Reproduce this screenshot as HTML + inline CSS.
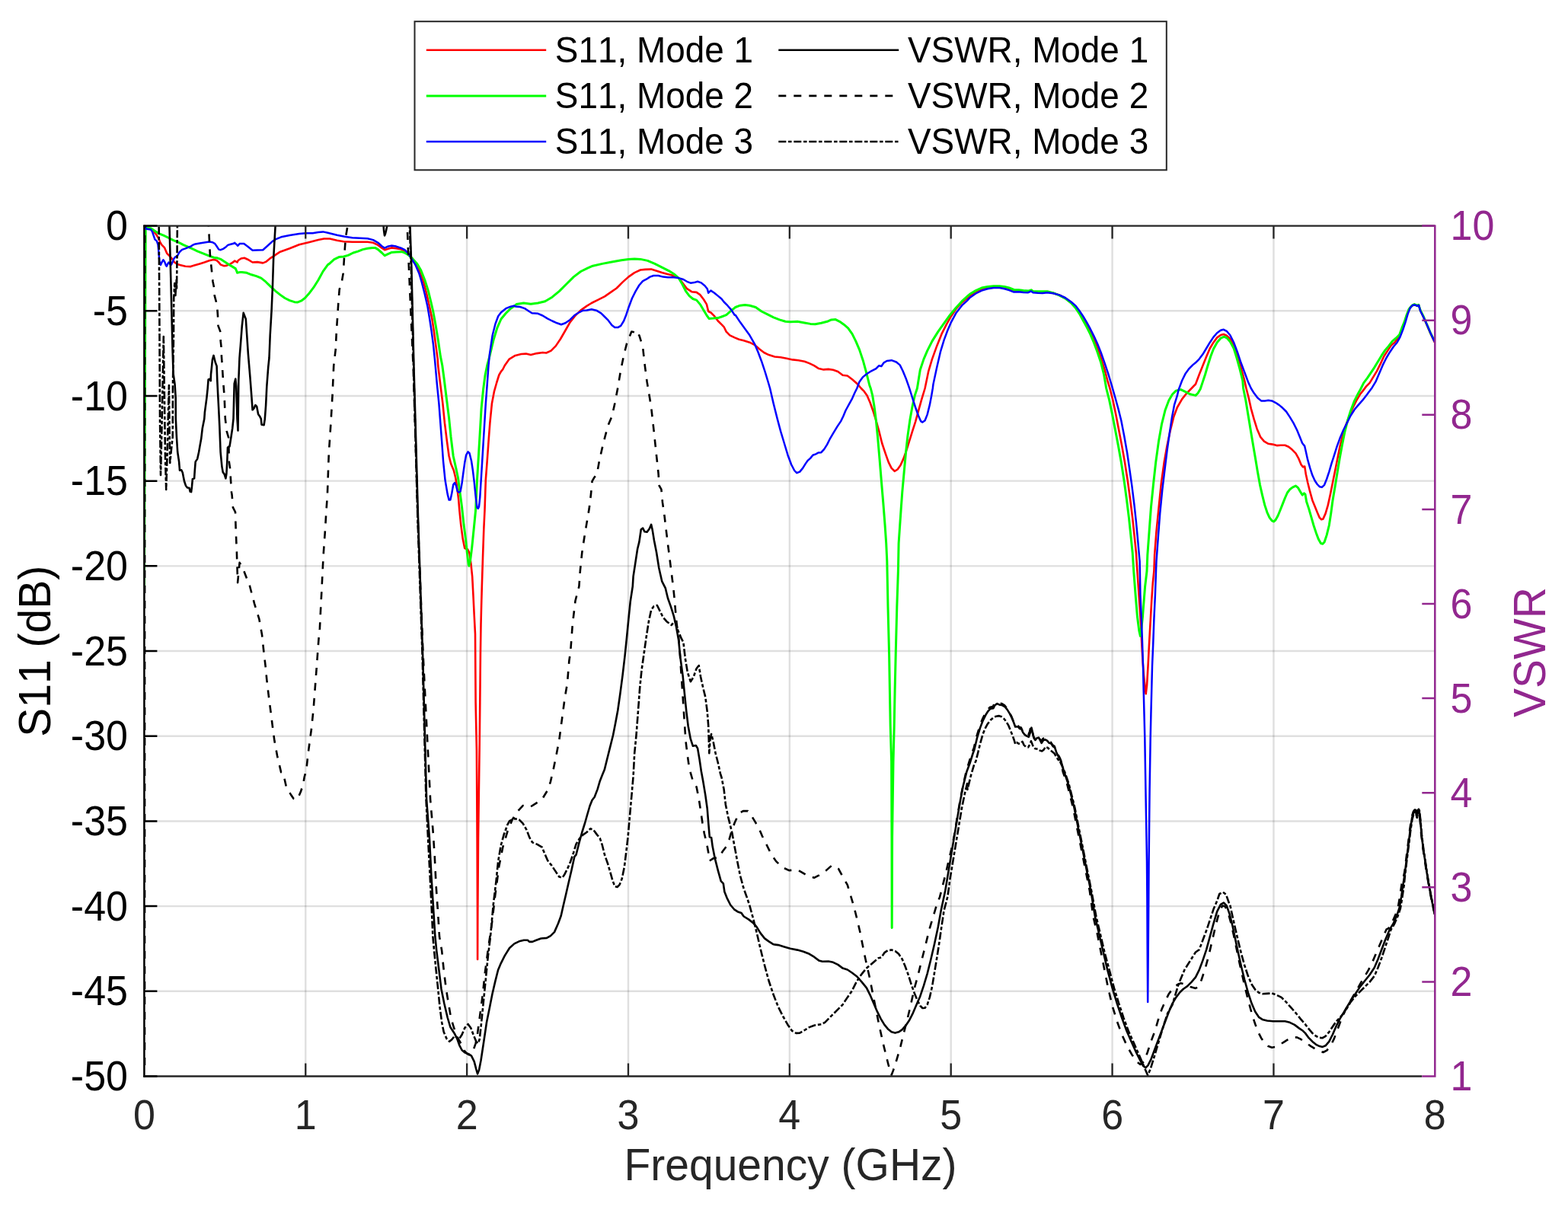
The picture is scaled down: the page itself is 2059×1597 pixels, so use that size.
<!DOCTYPE html>
<html lang="en"><head><meta charset="utf-8"><title>S11 and VSWR vs Frequency</title>
<style>html,body{margin:0;padding:0;background:#fff}body{width:2059px;height:1597px;overflow:hidden}svg{display:block}text{font-family:"Liberation Sans", Arial, Helvetica, sans-serif;font-kerning:none;font-variant-ligatures:none}</style>
</head><body>
<svg xmlns="http://www.w3.org/2000/svg" width="2059" height="1597" viewBox="0 0 2059 1597">
<rect x="0" y="0" width="2059" height="1597" fill="#ffffff"/>
<path d="M401.26 296.60V1413.50M613.12 296.60V1413.50M824.99 296.60V1413.50M1036.85 296.60V1413.50M1248.71 296.60V1413.50M1460.58 296.60V1413.50M1672.44 296.60V1413.50" fill="none" stroke="#262626" stroke-opacity="0.15" stroke-width="2.4"/>
<path d="M189.40 408.29H1884.30M189.40 519.98H1884.30M189.40 631.67H1884.30M189.40 743.36H1884.30M189.40 855.05H1884.30M189.40 966.74H1884.30M189.40 1078.43H1884.30M189.40 1190.12H1884.30M189.40 1301.81H1884.30" fill="none" stroke="#262626" stroke-opacity="0.15" stroke-width="2.4"/>
<defs><clipPath id="ax"><rect x="188.80" y="296.00" width="1696.10" height="1118.10"/></clipPath></defs>
<g clip-path="url(#ax)" fill="none" stroke-linejoin="round" stroke-linecap="butt">
<path d="M191.5 299.4L198.4 300.6L202.2 304.4L205.3 308.2L208.4 313.2L210.3 318.2L212.2 321.3L215.9 325.1L219.1 332.6L222.8 336.3L226.6 340.7L229.1 344.5L232.8 347.0L237.2 348.2L243.5 349.8L250.4 350.1L256.0 348.2L262.3 346.4L268.5 344.5L274.8 342.3L280.4 341.0L284.2 341.7L286.7 343.9L289.8 347.6L294.2 349.2L297.3 348.9L301.1 347.3L304.9 345.1L308.3 342.6L311.5 344.5L312.8 342.0L316.5 339.5L320.9 338.8L325.3 340.7L331.6 344.5L337.8 344.1L345.3 345.4L349.1 343.9L355.4 338.8L360.4 335.7L367.9 330.7L380.4 326.3L392.9 321.3L405.5 318.2L418.0 315.1L425.5 313.5L433.0 313.5L442.5 315.7L451.3 317.3L462.6 317.8L472.6 317.8L482.6 317.8L490.1 318.8L496.4 321.9L501.4 325.7L505.2 328.2L508.9 326.9L513.9 325.4L520.2 326.1L526.5 327.3L531.5 329.5L536.5 333.8L540.9 338.8L546.5 347.6L551.5 357.6L556.5 371.4L560.3 386.4L564.0 402.7L567.2 417.8L569.7 434.0L572.2 452.8L574.7 471.6L575.2 480.0L578.3 505.1L581.4 530.1L583.9 555.2L587.0 580.2L589.6 599.0L592.1 609.0L595.8 617.8L598.3 627.8L600.2 640.3L602.1 655.4L603.3 670.0L605.2 688.8L607.7 707.6L610.2 720.1L614.0 721.4L616.5 726.4L618.4 740.1L620.2 757.7L621.5 782.7L622.7 807.8L624.0 832.8L624.6 922.6L625.9 985.3L626.6 1100.0L627.0 1200.0L627.1 1260.0L627.3 1200.0L628.0 1100.0L629.6 985.3L630.3 922.6L630.9 860.0L631.5 820.3L632.1 795.3L632.8 770.2L634.0 732.6L635.3 695.1L636.5 670.0L637.8 630.3L639.7 605.3L641.5 580.2L643.4 555.2L645.9 530.1L649.0 513.8L652.2 502.5L655.3 492.5L657.8 488.1L660.3 485.0L662.8 480.0L668.8 471.6L676.6 466.9L684.4 465.0L690.7 464.6L697.0 466.1L704.8 464.1L712.6 463.0L717.3 463.5L723.6 460.6L729.8 454.4L736.1 445.0L742.4 434.0L748.6 423.1L754.9 415.2L762.7 407.4L770.5 401.9L776.8 398.0L784.6 394.1L794.0 389.4L801.9 383.9L809.7 378.5L817.5 370.6L825.3 363.6L833.2 358.1L841.0 354.5L847.3 353.9L855.1 353.6L861.4 355.4L869.2 358.1L875.4 359.7L881.7 361.2L888.0 363.3L892.7 366.7L897.4 373.0L902.1 379.2L908.3 383.2L914.6 383.9L919.3 387.1L924.0 393.3L927.9 399.6L930.2 409.0L933.4 410.5L938.1 415.2L942.8 421.5L947.5 426.2L950.6 429.3L953.7 435.6L958.4 440.3L964.7 443.4L970.4 445.8L976.6 447.3L984.4 449.7L990.7 452.8L997.0 458.3L1003.2 463.0L1009.5 466.1L1017.3 468.5L1025.1 469.3L1033.0 470.8L1040.8 472.4L1048.6 473.2L1056.5 474.7L1062.7 477.1L1069.0 480.2L1075.2 484.1L1081.5 485.4L1087.8 484.9L1094.0 485.7L1100.3 488.0L1106.6 492.7L1112.8 493.5L1119.1 498.2L1125.3 503.7L1130.8 510.0L1134.7 513.9L1138.6 519.4L1142.6 528.8L1146.5 539.7L1150.4 552.3L1154.3 566.4L1158.2 582.0L1162.9 596.1L1166.8 607.1L1170.7 614.9L1174.7 618.8L1178.6 616.5L1182.5 611.0L1186.4 602.4L1190.3 591.4L1194.2 578.9L1198.1 566.4L1202.1 553.8L1206.0 539.7L1209.9 525.7L1214.6 510.0L1219.3 487.3L1224.0 471.6L1230.2 454.4L1236.5 438.7L1242.8 426.2L1249.0 415.2L1255.3 405.9L1263.1 397.2L1270.0 391.8L1273.5 388.3L1281.3 383.3L1289.1 379.5L1297.0 377.7L1304.8 376.7L1312.6 376.7L1318.9 377.7L1325.1 379.2L1331.4 381.7L1337.7 381.7L1343.9 382.5L1350.2 383.0L1354.1 381.4L1356.5 383.2L1362.7 383.5L1369.0 383.8L1375.2 383.5L1383.1 384.9L1390.9 387.4L1398.7 391.3L1406.6 397.1L1412.8 403.5L1417.5 410.2L1422.2 418.1L1426.9 426.2L1431.6 435.3L1436.3 445.3L1441.0 456.7L1445.7 470.0L1450.4 484.9L1454.3 499.8L1457.4 510.0L1461.4 525.7L1465.3 544.4L1469.2 564.8L1473.1 585.1L1477.0 607.1L1480.9 632.1L1484.1 655.6L1487.2 680.6L1489.5 702.6L1491.9 726.0L1493.4 750.0L1495.0 773.5L1496.6 797.0L1498.1 820.5L1499.2 843.9L1500.5 867.4L1502.1 887.8L1503.6 903.4L1504.7 911.3L1506.0 900.3L1507.5 875.2L1509.1 843.9L1510.7 815.8L1512.2 789.1L1513.8 765.7L1515.4 750.0L1516.1 729.2L1518.5 697.9L1521.6 666.6L1524.8 635.2L1528.7 607.1L1532.6 585.1L1536.5 566.4L1541.2 547.6L1545.9 535.0L1552.2 524.1L1558.4 516.3L1564.7 510.0L1570.0 504.5L1574.7 492.0L1579.4 480.2L1584.1 468.5L1588.8 457.5L1593.5 449.7L1598.2 443.4L1602.9 440.0L1606.8 439.0L1610.7 440.6L1615.4 445.0L1620.1 453.6L1624.8 466.9L1629.5 482.6L1634.2 499.8L1636.5 510.0L1639.7 522.5L1642.8 536.6L1646.7 550.7L1650.6 563.2L1655.3 574.2L1660.0 579.7L1665.5 582.8L1671.0 583.6L1676.5 585.1L1681.9 584.8L1687.4 584.8L1692.1 586.7L1696.8 590.6L1701.5 595.3L1705.4 602.4L1708.6 610.2L1710.9 613.3L1713.2 612.5L1714.8 622.7L1717.2 633.7L1720.3 646.2L1723.4 657.2L1726.6 665.0L1729.7 672.8L1732.8 679.9L1735.2 682.2L1737.5 681.4L1740.6 674.4L1743.8 663.4L1746.9 649.3L1750.0 633.7L1753.2 618.0L1756.3 602.4L1759.4 586.7L1763.3 571.1L1767.3 558.5L1772.0 546.0L1776.7 535.0L1781.4 525.7L1786.0 517.8L1789.2 513.9L1793.9 507.6L1798.6 502.9L1803.3 495.1L1808.0 487.3L1812.7 477.9L1817.4 467.7L1822.1 460.6L1826.8 453.6L1831.4 449.7L1836.1 443.4L1840.1 435.6L1844.0 424.6L1847.1 414.5L1850.2 406.2L1853.4 402.1L1857.3 399.9L1860.4 401.5L1862.8 400.7L1865.1 407.7L1869.0 416.0L1873.7 427.0L1878.4 437.9L1883.9 449.7" stroke="#ff0000" stroke-width="2.60"/>
<path d="M189.4 769.0L190.4 500.0L191.2 299.0L198.4 300.0L202.8 303.1L207.8 306.3L215.3 309.4L221.6 312.5L227.8 315.7L234.1 318.2L240.4 321.3L246.6 324.1L252.9 326.9L259.1 329.8L265.4 332.3L271.7 334.8L276.0 336.6L281.1 338.2L285.4 338.8L290.4 340.7L294.2 343.2L298.0 345.7L303.0 348.9L306.7 351.1L309.2 352.6L310.9 356.4L311.5 358.3L314.6 357.6L317.8 357.4L324.0 358.3L330.3 360.8L336.6 362.6L342.8 365.2L349.1 370.2L355.4 376.4L361.6 382.1L367.9 387.1L374.1 391.5L380.4 394.6L386.7 396.7L390.4 397.1L395.4 395.2L400.4 391.5L405.5 385.8L411.7 377.7L418.0 367.7L424.2 356.4L430.5 347.6L432.5 346.4L438.8 340.7L445.1 337.6L451.3 337.0L457.6 335.1L463.8 332.0L470.1 330.1L476.4 327.6L482.6 326.3L488.9 325.4L492.6 325.4L496.4 327.6L501.4 332.0L505.2 335.7L508.9 333.8L513.9 331.6L520.2 331.1L527.7 330.7L531.5 332.0L536.5 335.1L541.5 339.5L547.8 346.4L552.8 355.1L557.8 367.7L562.2 381.4L565.9 396.5L569.0 410.2L572.2 427.8L575.3 446.6L578.4 467.9L580.8 480.0L583.3 498.8L586.4 523.8L589.6 548.9L592.1 573.9L595.2 599.0L598.9 615.3L601.5 627.8L604.0 646.6L606.5 665.4L609.0 688.8L611.5 707.6L613.4 726.4L615.2 741.4L615.9 743.3L617.7 735.1L619.6 720.1L621.5 701.3L623.4 682.5L624.6 670.0L626.5 630.3L628.4 599.0L630.3 567.7L632.1 536.4L634.6 511.3L637.1 492.5L639.7 480.0L642.9 467.9L648.0 446.6L653.0 430.3L658.0 419.0L664.2 411.5L670.5 405.2L675.5 402.1L678.2 399.6L687.6 398.0L697.0 399.3L706.4 398.0L715.8 395.7L725.1 390.2L734.5 382.4L743.9 373.0L753.3 363.6L762.7 356.5L772.1 351.8L778.4 349.2L790.9 346.4L803.4 344.0L815.9 341.7L825.3 340.4L833.2 340.1L841.0 340.4L850.4 342.4L859.8 346.4L869.2 351.1L878.6 355.8L884.8 359.7L891.1 365.1L895.8 373.0L900.5 382.4L905.2 388.6L909.9 392.5L914.6 394.1L919.3 399.6L924.0 407.4L928.7 415.2L931.0 418.4L936.5 418.1L942.8 417.6L947.5 416.0L953.7 413.7L960.0 408.2L964.7 404.3L965.7 403.5L971.9 401.2L978.2 400.4L984.4 401.2L992.3 403.5L1000.1 409.0L1007.9 412.9L1015.8 416.8L1023.6 419.9L1031.4 422.3L1037.7 422.8L1047.1 422.3L1056.5 423.9L1064.3 425.4L1070.5 425.7L1078.4 424.3L1086.2 422.3L1091.7 419.9L1097.2 419.6L1102.6 422.3L1108.1 426.2L1113.6 430.9L1119.1 438.7L1123.8 448.1L1128.5 459.1L1133.2 473.2L1137.9 490.4L1141.8 506.0L1143.3 510.0L1145.7 519.4L1148.0 533.5L1150.4 552.3L1152.7 575.8L1155.1 603.9L1157.4 632.1L1159.8 660.3L1162.1 690.0L1163.7 713.5L1164.8 737.0L1166.0 797.0L1167.6 859.6L1168.4 906.6L1169.2 953.5L1170.6 1000.0L1171.0 1100.0L1171.2 1218.5L1171.6 1100.0L1173.0 1000.0L1174.2 953.5L1175.1 906.6L1176.2 859.6L1177.8 797.0L1179.4 750.0L1180.1 713.5L1181.7 690.0L1183.3 666.6L1184.8 646.2L1187.2 619.6L1189.5 594.5L1191.9 572.6L1195.0 550.7L1198.1 533.5L1201.3 519.4L1204.4 510.0L1208.3 485.7L1213.0 471.6L1217.7 460.6L1224.0 448.1L1231.8 435.6L1239.6 424.6L1247.5 413.7L1255.3 404.3L1263.1 395.7L1270.0 389.4L1273.5 386.3L1281.3 381.6L1289.1 378.0L1297.0 376.4L1304.8 375.8L1312.6 375.8L1318.9 376.4L1325.1 378.0L1331.4 380.5L1337.7 380.8L1343.9 381.6L1350.2 382.1L1354.1 380.8L1356.5 382.4L1362.7 382.7L1369.0 382.8L1375.2 382.8L1383.1 384.7L1390.9 387.8L1398.7 391.8L1406.6 398.0L1412.8 405.1L1417.5 412.1L1422.2 420.7L1426.9 429.3L1431.6 438.7L1436.3 449.7L1441.0 462.2L1445.7 476.3L1449.6 492.0L1452.7 510.0L1456.7 525.7L1460.6 544.4L1464.5 564.8L1468.4 585.1L1472.3 607.1L1476.2 632.1L1479.4 655.6L1482.5 680.6L1484.8 702.6L1487.2 726.0L1488.7 750.0L1491.1 781.3L1493.4 809.5L1495.8 828.3L1497.4 835.3L1498.9 825.1L1500.5 809.5L1502.1 789.1L1503.6 770.4L1506.0 750.0L1506.8 729.2L1509.1 697.9L1511.4 666.6L1514.6 635.2L1517.7 607.1L1521.6 578.9L1525.5 557.0L1530.2 538.2L1534.9 525.7L1539.6 517.8L1544.3 513.1L1550.6 511.6L1556.8 514.7L1563.1 517.8L1570.0 519.4L1573.1 516.2L1576.3 510.7L1579.4 501.4L1582.5 492.0L1585.7 481.0L1589.6 468.5L1593.5 458.3L1598.2 449.7L1602.9 444.2L1607.6 442.2L1611.5 444.2L1615.4 448.9L1620.1 457.5L1624.0 470.0L1627.9 484.1L1631.8 499.8L1632.6 510.0L1635.8 525.7L1638.9 544.4L1642.0 563.2L1645.1 582.0L1648.3 600.8L1651.4 619.6L1654.5 636.8L1657.7 650.9L1660.8 663.4L1663.9 672.8L1667.1 679.9L1670.2 683.8L1672.5 685.0L1674.9 683.0L1678.0 677.5L1681.2 669.7L1684.3 661.9L1687.4 654.0L1690.5 647.0L1693.7 642.8L1697.6 639.9L1701.5 638.1L1704.6 640.7L1707.8 646.2L1710.1 650.1L1712.5 647.8L1714.0 649.3L1715.6 658.7L1718.7 668.1L1721.9 679.1L1725.0 690.0L1728.1 699.4L1731.3 708.0L1734.4 713.5L1736.7 714.3L1739.1 712.0L1742.2 702.6L1745.3 690.0L1747.7 674.4L1750.0 657.2L1753.2 638.4L1756.3 619.6L1759.4 600.8L1762.6 583.6L1765.7 567.9L1769.6 552.3L1773.5 539.7L1778.2 527.2L1782.9 517.8L1786.0 512.3L1790.7 502.9L1795.4 496.7L1800.1 489.6L1804.8 482.6L1809.5 474.7L1814.2 466.9L1818.9 459.9L1823.6 454.4L1828.3 448.1L1833.0 444.2L1837.7 439.5L1840.8 430.9L1844.0 423.1L1847.1 413.7L1850.2 405.9L1853.4 401.9L1857.3 399.6L1860.4 401.2L1862.8 400.4L1865.1 407.4L1869.0 415.2L1873.7 426.2L1878.4 437.2L1883.9 448.1" stroke="#00ff00" stroke-width="3.00"/>
<path d="M191.4 296.9L191.5 300.6L198.1 301.6L200.0 304.4L201.5 308.8L203.4 314.4L205.9 316.6L207.5 321.3L208.1 327.6L208.7 335.1L209.4 343.2L210.9 347.9L212.5 344.5L214.4 341.3L216.2 343.9L217.8 348.2L218.8 349.8L220.3 346.4L221.6 344.5L223.4 347.0L225.0 347.6L226.6 343.9L228.5 339.5L230.3 337.3L232.8 336.3L234.1 333.8L236.0 330.7L239.1 327.9L243.5 326.3L247.2 324.8L250.4 323.8L252.9 321.9L256.6 320.4L262.3 319.4L268.5 318.5L274.8 317.6L279.2 318.2L282.3 320.1L284.8 323.8L287.3 327.6L289.8 328.2L293.0 326.9L296.1 324.8L299.2 321.9L303.0 320.7L306.1 320.1L308.3 318.8L308.4 319.4L310.3 320.7L312.1 322.8L314.6 320.1L320.3 320.1L325.3 323.8L331.6 328.8L337.8 328.6L345.3 328.2L350.3 323.8L357.9 316.9L362.9 313.8L369.1 311.3L380.4 309.0L392.9 306.9L401.7 306.3L410.5 306.3L418.0 305.0L424.2 304.4L430.5 305.7L432.5 306.3L442.5 308.8L452.6 310.7L462.6 312.3L472.6 312.8L482.6 313.2L490.1 315.1L496.4 318.8L501.4 323.2L505.2 325.7L508.9 323.8L513.9 322.6L520.2 323.6L526.5 325.7L531.5 328.2L536.5 333.2L540.2 339.5L545.3 347.6L550.3 358.9L554.0 371.4L557.8 386.4L561.5 402.7L564.0 417.8L566.5 434.0L569.0 452.8L570.9 471.6L573.9 505.1L576.4 530.1L578.3 555.2L580.2 580.2L582.0 605.3L584.5 630.3L587.7 649.1L589.6 656.6L591.4 656.6L593.3 647.8L595.2 636.6L597.1 634.1L598.9 637.8L600.8 645.3L602.7 646.6L604.6 645.3L606.5 635.3L608.3 621.5L610.2 607.8L612.1 597.7L614.6 593.4L616.5 595.2L619.0 605.3L620.9 617.8L622.7 632.8L624.6 651.6L626.5 666.6L627.8 667.9L629.0 665.4L630.3 652.8L632.1 624.0L634.0 592.7L635.9 561.4L637.8 530.1L639.7 505.1L641.5 480.0L642.9 465.4L646.7 440.3L650.5 425.3L654.2 415.3L658.0 410.2L664.2 405.2L670.5 402.7L675.5 401.5L676.6 402.4L682.9 403.0L689.1 405.1L693.8 408.2L698.5 411.3L706.4 411.8L712.6 414.5L718.9 418.4L725.1 421.5L731.4 424.3L736.9 426.2L742.4 424.3L748.6 419.9L754.9 413.7L761.2 409.8L765.9 407.7L770.5 407.4L776.8 406.2L783.1 407.7L789.3 411.3L794.0 416.0L798.7 420.7L803.4 427.0L807.3 430.1L811.3 430.1L815.2 427.8L819.1 421.5L822.2 413.7L825.3 404.3L830.0 391.8L834.7 382.4L839.4 374.5L844.1 369.1L848.8 366.7L853.5 363.6L858.2 362.0L864.5 362.0L870.7 363.6L877.0 364.2L884.8 364.2L891.1 365.1L897.4 367.0L902.1 369.8L906.8 371.7L911.4 371.1L916.1 369.8L920.8 371.4L925.5 375.3L928.7 379.2L930.2 384.7L933.4 381.6L938.1 384.7L942.8 388.6L947.5 392.5L950.6 396.5L955.3 401.2L960.0 406.6L964.7 413.7L965.7 413.7L971.9 423.1L978.2 431.7L984.4 440.3L990.7 451.3L995.4 462.2L1000.1 474.7L1004.8 488.8L1009.5 504.5L1011.1 510.0L1015.8 530.4L1020.5 549.1L1025.1 566.4L1029.8 582.0L1034.5 597.7L1039.2 610.2L1043.2 618.0L1046.3 621.2L1050.2 619.6L1054.1 614.9L1058.0 608.6L1060.4 605.2L1064.3 601.6L1067.4 597.7L1071.3 596.4L1074.5 594.5L1078.4 594.2L1082.3 589.8L1086.2 583.6L1090.1 575.8L1094.8 567.9L1099.5 560.1L1104.2 553.1L1107.3 546.8L1110.5 539.0L1115.2 530.4L1119.1 523.3L1122.2 516.3L1125.3 510.0L1128.5 501.4L1133.2 495.1L1137.9 491.2L1144.1 487.3L1150.4 484.1L1154.3 480.2L1157.4 481.0L1160.6 476.3L1164.5 474.0L1170.7 473.2L1177.0 475.5L1181.7 479.4L1185.6 487.3L1189.5 496.7L1194.2 510.0L1198.1 522.5L1202.1 535.0L1206.0 546.0L1209.1 553.1L1211.4 554.6L1214.6 552.3L1217.7 544.4L1220.8 531.9L1223.2 519.4L1224.8 510.0L1225.5 504.5L1230.2 482.6L1234.9 462.2L1239.6 446.6L1244.3 434.0L1249.0 423.1L1255.3 411.3L1263.1 401.2L1270.0 394.9L1273.5 391.0L1281.3 385.5L1289.1 381.6L1297.0 379.2L1304.8 378.0L1312.6 378.0L1318.9 379.2L1325.1 381.1L1331.4 383.6L1337.7 383.2L1343.9 383.9L1350.2 384.2L1354.1 382.4L1356.5 384.2L1362.7 384.7L1369.0 385.0L1375.2 384.2L1383.1 385.2L1390.9 387.4L1398.7 391.0L1406.6 396.5L1412.8 401.9L1417.5 408.2L1422.2 415.2L1426.9 423.1L1431.6 431.7L1436.3 441.1L1441.0 451.3L1445.7 463.0L1450.4 476.3L1455.1 490.4L1459.8 506.0L1464.5 522.5L1468.4 536.6L1472.3 552.3L1476.2 572.6L1480.1 594.5L1483.3 616.5L1486.4 638.4L1489.5 663.4L1491.9 685.3L1494.2 710.4L1496.6 737.0L1497.4 781.3L1498.9 812.6L1500.0 843.9L1501.0 875.2L1501.7 906.6L1502.5 937.9L1503.3 969.2L1504.4 1037.0L1505.2 1083.9L1506.0 1130.9L1506.4 1177.9L1506.7 1240.0L1507.2 1316.0L1507.8 1240.0L1508.3 1177.9L1508.6 1130.9L1509.1 1083.9L1509.6 1037.0L1510.7 969.2L1511.4 937.9L1512.2 906.6L1513.0 875.2L1514.3 843.9L1515.4 812.6L1516.9 781.3L1518.0 750.0L1518.5 737.0L1520.8 705.7L1523.2 674.4L1526.3 643.1L1529.5 616.5L1532.6 591.4L1535.7 569.5L1538.8 549.1L1542.0 531.9L1545.9 519.4L1547.5 512.3L1552.2 499.8L1556.8 490.4L1561.5 484.1L1566.2 479.4L1570.0 476.3L1574.7 471.6L1579.4 465.3L1584.1 457.5L1588.8 449.7L1593.5 442.6L1598.2 437.2L1602.9 433.7L1606.8 432.8L1610.7 434.8L1615.4 440.3L1620.1 449.7L1624.8 462.2L1629.5 476.3L1634.2 488.8L1638.9 501.4L1642.8 510.0L1646.7 516.3L1651.4 522.5L1656.1 526.4L1660.8 526.4L1665.5 525.7L1670.2 526.4L1674.9 528.8L1679.6 531.9L1684.3 535.8L1689.0 540.5L1693.7 547.6L1698.4 555.4L1703.1 564.8L1707.0 574.2L1710.1 582.0L1713.2 585.9L1714.8 593.0L1717.2 603.9L1720.3 614.9L1723.4 624.3L1726.6 631.3L1729.7 636.0L1732.8 639.2L1735.9 639.9L1739.1 636.8L1742.2 629.0L1745.3 619.6L1748.5 608.6L1751.6 599.2L1755.5 586.7L1759.4 575.8L1764.1 564.8L1768.8 555.4L1773.5 546.0L1779.0 537.4L1783.7 531.9L1789.2 525.7L1795.4 517.8L1797.0 515.4L1801.7 509.2L1806.4 501.4L1811.1 490.4L1815.8 479.4L1820.5 470.0L1825.2 462.2L1829.9 455.2L1834.6 449.7L1838.5 442.6L1842.4 432.5L1845.5 423.1L1848.7 412.1L1851.8 404.3L1854.9 400.8L1858.1 400.4L1861.2 401.9L1863.1 400.8L1865.1 408.2L1869.0 416.0L1873.7 426.2L1878.4 437.2L1883.9 448.9" stroke="#0000ff" stroke-width="2.50"/>
<path d="M190.0 200.0L222.3 290.0L224.4 370.0L226.6 460.0L227.6 491.0L229.6 505.0L230.7 522.6L230.8 550.0L232.0 575.0L233.2 593.8L235.1 606.4L236.0 617.6L238.2 617.3L239.8 620.8L241.0 627.0L242.0 632.0L243.9 637.7L246.0 640.5L248.5 640.8L249.8 645.8L251.1 646.1L252.0 638.9L252.9 628.9L255.1 628.3L255.7 618.9L256.7 606.4L259.2 602.6L261.1 593.8L262.6 585.1L264.2 576.3L265.8 562.5L268.3 550.0L268.9 541.4L271.4 522.6L272.7 510.1L273.6 498.5L275.5 497.6L276.7 500.1L277.0 491.3L277.7 485.0L278.9 472.5L280.5 466.9L282.7 475.7L284.6 480.7L285.2 497.6L286.1 516.4L287.1 535.1L288.3 560.0L289.6 593.8L291.4 612.6L292.7 620.1L294.6 622.6L296.4 628.3L297.4 622.0L298.3 606.4L299.0 587.6L301.5 586.3L303.3 575.0L305.2 562.5L306.5 550.0L307.7 503.8L309.3 497.6L310.2 507.0L311.5 550.0L312.5 565.5L313.3 500.0L314.5 470.0L315.9 452.8L317.8 427.8L319.7 410.9L322.8 419.0L325.9 465.4L328.4 495.1L330.3 520.1L331.6 538.3L333.4 536.4L335.3 532.0L337.2 533.9L339.1 543.9L340.9 546.4L342.8 550.2L343.5 557.7L346.6 558.3L347.8 550.2L349.1 532.6L350.3 507.6L352.2 482.5L353.5 470.0L354.7 440.3L356.6 407.7L357.9 377.7L359.1 340.1L361.6 296.9L364.1 239.9M538.2 290.0L540.3 350.0L543.4 480.0L549.0 680.0L555.1 860.0L560.1 1050.0L563.9 1100.0L566.4 1150.0L569.5 1200.0L571.4 1230.0L573.3 1248.8L576.4 1273.8L579.5 1298.9L583.3 1317.7L587.7 1336.5L591.4 1349.0L597.1 1357.8L600.2 1364.0L603.3 1372.8L606.5 1379.0L610.2 1382.2L615.2 1384.1L619.0 1386.6L622.7 1394.1L625.3 1404.1L627.1 1410.4L629.0 1405.4L631.5 1392.8L635.3 1367.8L639.0 1342.7L642.8 1323.9L646.5 1305.2L650.3 1288.9L654.1 1273.8L657.8 1265.1L662.8 1255.1L669.1 1245.0L675.4 1239.4L681.6 1236.3L687.9 1234.8L692.9 1234.8L695.4 1236.9L699.1 1236.9L704.2 1234.8L710.4 1232.5L717.9 1231.9L722.9 1229.1L728.0 1224.1L733.0 1212.8L736.7 1202.8L739.2 1191.5L743.0 1175.3L746.7 1159.0L750.5 1142.7L754.3 1125.2L756.5 1122.7L760.4 1107.1L764.3 1093.0L768.2 1080.5L771.3 1069.5L774.5 1058.5L777.6 1050.7L780.7 1046.8L784.6 1036.6L787.8 1025.7L790.9 1017.8L793.7 1011.1L797.2 997.0L801.1 981.4L805.0 965.7L808.1 950.0L811.3 932.8L814.4 910.9L817.5 887.4L820.6 860.8L823.0 837.3L825.3 813.8L827.7 790.4L830.8 770.0L831.6 757.0L834.0 741.4L837.1 721.0L839.4 711.6L841.8 695.2L844.1 693.6L846.5 698.3L849.6 698.8L852.7 694.4L855.1 688.9L856.7 695.9L859.0 710.0L862.1 725.7L865.3 746.0L869.2 763.3L873.9 772.7L874.7 776.3L877.0 785.7L880.9 796.6L884.8 809.1L888.0 823.2L891.1 840.5L893.4 863.9L896.6 887.4L898.9 910.9L901.3 934.4L903.6 953.2L906.8 970.4L909.9 979.8L913.8 979.0L916.1 982.9L918.5 997.0L920.8 1012.7L923.2 1025.7L926.3 1044.4L928.7 1061.7L930.2 1080.5L931.8 1099.2L934.1 1100.0L935.7 1111.8L938.8 1127.4L942.8 1143.1L946.7 1157.2L949.8 1160.3L951.4 1171.3L954.5 1179.1L959.2 1188.5L963.9 1194.0L964.1 1194.3L968.8 1197.4L973.5 1199.0L976.6 1203.5L982.9 1207.4L989.1 1212.1L993.8 1217.6L998.5 1225.4L1004.0 1232.4L1009.5 1236.4L1015.8 1240.3L1022.0 1241.1L1029.8 1243.4L1037.7 1245.8L1047.1 1247.6L1054.9 1249.7L1062.7 1252.8L1069.0 1256.7L1075.2 1261.4L1079.9 1262.7L1087.8 1262.5L1094.0 1263.8L1100.3 1266.9L1106.6 1271.6L1112.8 1273.5L1119.1 1277.8L1125.3 1282.5L1131.6 1289.6L1137.9 1297.4L1142.6 1306.8L1147.3 1317.8L1152.0 1328.7L1156.7 1338.1L1161.4 1345.9L1166.0 1351.4L1170.7 1355.3L1175.4 1356.6L1180.1 1355.3L1184.8 1352.2L1189.5 1346.7L1194.2 1339.7L1198.9 1330.3L1203.6 1319.3L1208.3 1308.4L1213.0 1294.3L1217.7 1278.6L1222.4 1259.8L1227.1 1239.5L1231.8 1217.6L1235.7 1195.7L1241.2 1170.0L1245.1 1146.6L1249.0 1123.1L1252.9 1099.6L1256.8 1076.1L1260.8 1052.6L1264.7 1032.3L1269.4 1013.5L1273.5 1002.5L1277.4 990.0L1279.4 984.5L1283.1 968.9L1286.9 956.4L1290.7 946.3L1294.4 938.8L1297.6 933.8L1300.7 930.7L1304.4 930.1L1306.3 926.3L1309.4 924.1L1312.6 925.7L1315.7 926.0L1319.5 928.2L1322.6 931.9L1325.7 936.9L1328.9 943.2L1331.4 949.5L1333.2 954.5L1335.1 954.2L1337.0 954.5L1338.9 957.0L1341.4 957.6L1343.3 962.0L1345.8 965.1L1348.3 966.7L1350.8 967.9L1352.7 962.6L1354.5 955.7L1356.1 962.6L1357.7 969.5L1359.5 972.0L1361.4 969.5L1363.9 968.6L1365.8 972.0L1367.7 975.8L1370.2 972.0L1372.7 971.4L1375.2 972.9L1377.7 975.8L1380.2 976.4L1382.7 980.2L1385.2 982.0L1387.1 987.7L1389.0 992.0L1391.5 995.8L1393.4 1000.0L1397.2 1013.5L1402.6 1029.1L1406.6 1044.8L1410.5 1060.5L1413.6 1076.1L1416.7 1091.8L1419.9 1107.4L1423.0 1123.1L1426.1 1138.7L1429.3 1154.4L1432.4 1170.0L1437.9 1203.5L1443.3 1227.0L1448.8 1250.5L1454.3 1273.9L1460.6 1297.4L1466.8 1317.8L1473.1 1336.6L1479.4 1353.8L1485.6 1367.9L1491.9 1382.0L1497.4 1392.9L1501.3 1400.0L1504.4 1402.3L1507.5 1399.2L1511.4 1391.4L1516.1 1378.8L1520.8 1366.3L1525.5 1353.8L1530.2 1341.3L1534.9 1328.7L1539.6 1317.8L1544.3 1309.9L1549.0 1303.7L1553.7 1299.0L1559.2 1295.1L1564.7 1289.6L1570.0 1283.3L1574.7 1273.9L1579.4 1261.4L1584.1 1247.3L1588.8 1230.1L1593.5 1212.9L1598.2 1197.2L1602.9 1187.8L1606.8 1185.5L1610.7 1189.4L1614.6 1200.4L1618.5 1216.0L1622.4 1234.8L1626.4 1253.6L1630.3 1270.8L1634.2 1286.5L1638.9 1303.7L1643.6 1317.8L1648.3 1328.7L1653.0 1335.8L1657.7 1338.9L1663.9 1340.5L1671.8 1341.3L1679.6 1341.3L1687.4 1341.3L1693.7 1342.8L1699.9 1345.9L1706.2 1350.6L1710.9 1353.8L1714.0 1356.9L1718.7 1363.2L1723.4 1367.9L1728.1 1371.8L1732.8 1374.1L1736.7 1374.9L1740.6 1373.3L1745.3 1367.9L1750.0 1358.5L1754.7 1347.5L1759.4 1338.1L1764.1 1330.3L1768.8 1322.5L1773.5 1314.6L1779.8 1305.2L1786.0 1295.9L1792.3 1288.0L1798.6 1280.2L1804.8 1270.8L1809.5 1259.8L1814.2 1247.3L1818.9 1234.8L1825.2 1220.1L1829.9 1212.3L1834.6 1201.4L1837.7 1192.0L1840.1 1177.9L1842.4 1162.2L1844.8 1146.6L1847.1 1127.8L1849.5 1109.0L1851.8 1090.2L1854.1 1074.5L1856.5 1066.7L1858.8 1063.6L1860.4 1073.0L1862.0 1065.1L1863.5 1063.6L1865.1 1077.7L1866.7 1096.5L1869.0 1115.2L1871.4 1130.9L1873.7 1146.6L1876.1 1160.6L1878.4 1173.2L1880.8 1185.7L1883.9 1199.8L1886.2 1209.2" stroke="#000000" stroke-width="2.60"/>
<path d="M190.0 1399.0L190.2 200.0M273.1 287.5L274.5 307.5L275.8 333.8L277.7 352.6L279.5 370.0L280.8 376.3L281.7 388.2L283.9 396.3L285.5 407.6L286.1 416.3L286.4 427.6L289.2 435.1L289.6 447.0L290.5 455.2L290.8 466.0L291.8 480.0L293.0 500.0L294.6 520.0L295.8 550.0L296.5 555.6L297.7 566.3L300.2 575.0L300.8 606.4L302.1 615.1L303.3 635.2L304.0 646.4L304.6 650.0L305.9 666.3L309.0 672.5L309.6 693.8L310.9 725.2L312.1 765.2L314.6 738.9L319.0 746.4L322.8 756.5L327.8 769.0L334.1 792.8L340.3 812.8L344.1 834.1L346.0 852.5L348.5 873.8L350.3 892.6L352.8 913.9L355.4 934.0L357.9 954.0L360.4 972.8L364.1 992.8L369.1 1014.1L370.4 1013.8L373.5 1022.5L376.0 1033.8L381.7 1043.2L385.4 1048.8L390.4 1050.1L394.8 1040.1L397.9 1030.7L399.8 1020.0L402.3 1011.3L404.2 992.8L406.7 974.0L409.2 955.3L411.7 930.2L413.6 905.2L415.5 880.1L417.3 855.1L419.2 830.0L419.9 825.4L421.1 800.3L422.4 775.3L423.6 750.2L424.9 725.2L426.7 700.1L428.6 668.8L429.9 650.0L431.8 595.3L434.3 557.7L436.5 520.0L438.2 480.4L440.7 459.1L441.9 434.0L443.2 415.3L444.4 396.5L445.7 380.2L448.8 370.2L450.7 358.9L451.9 340.1L453.2 321.3L454.4 308.8L456.3 297.5L457.6 285.0M534.3 285.0L536.0 330.0L539.0 400.0L542.6 480.0L548.6 680.0L555.6 860.0L557.6 900.0L565.1 1050.0L568.3 1087.6L570.8 1125.1L572.6 1162.7L575.2 1200.3L577.0 1230.0L580.2 1248.8L582.7 1273.8L585.8 1298.9L588.9 1317.7L592.1 1336.5L595.8 1349.0L600.2 1361.5L605.2 1370.3L609.0 1379.0L612.7 1383.4L615.9 1385.3L619.0 1384.1L622.1 1377.8L624.6 1370.3L626.5 1361.5L629.0 1342.7L631.5 1323.9L634.0 1305.2L636.5 1280.1L639.0 1261.3L641.5 1242.5L643.4 1230.0L645.9 1212.8L650.3 1175.3L655.3 1137.7L660.3 1112.6L666.6 1091.3L672.8 1076.3L679.1 1066.3L686.6 1058.1L695.4 1060.3L702.9 1055.6L707.9 1052.5L712.9 1047.9L719.8 1036.6L722.9 1026.6L726.7 1010.3L730.5 991.5L734.2 972.7L736.7 953.9L739.2 935.2L741.7 916.4L744.9 897.6L747.4 867.5L749.2 855.4L751.8 820.3L755.5 789.0L760.4 770.0L761.9 749.2L764.3 725.7L767.4 705.3L770.5 686.6L773.7 667.8L776.0 649.0L777.6 631.8L779.9 627.8L783.9 622.4L787.0 605.1L790.9 587.9L794.8 572.3L798.7 558.2L803.4 547.2L807.3 530.0L811.3 509.2L815.2 485.7L819.1 466.9L823.0 451.3L826.1 443.4L829.3 435.6L833.2 436.4L835.5 442.6L839.4 440.3L844.1 455.9L846.5 477.9L849.6 501.4L853.5 524.8L855.1 534.7L857.4 555.0L859.8 577.0L862.1 598.9L864.5 620.8L865.7 638.0L868.4 642.7L870.0 659.9L872.3 675.6L874.7 695.9L877.0 714.7L879.4 733.5L881.7 752.3L884.1 771.1L885.6 785.7L887.2 804.4L888.7 820.1L891.1 835.8L892.7 856.1L894.2 879.6L895.8 903.1L897.4 926.6L898.9 950.0L900.5 973.5L902.8 992.3L905.2 1009.5L909.9 1025.7L914.6 1033.5L917.7 1049.1L920.1 1064.8L922.4 1080.5L924.8 1094.5L927.9 1107.1L930.2 1119.6L931.8 1130.5L936.5 1127.4L944.3 1125.9L949.0 1118.0L953.7 1111.8L957.6 1102.4L960.8 1091.4L964.7 1080.5L970.4 1068.3L975.8 1065.1L982.1 1065.1L986.8 1071.4L991.5 1079.2L996.2 1087.1L1000.9 1098.0L1006.4 1109.0L1012.6 1121.5L1018.9 1130.9L1026.7 1138.7L1036.1 1143.1L1047.1 1142.2L1053.3 1145.8L1059.6 1149.7L1069.0 1152.8L1075.2 1149.7L1084.6 1143.4L1092.5 1136.4L1101.1 1141.1L1106.6 1151.3L1112.8 1162.2L1117.5 1177.9L1121.4 1191.0L1125.3 1206.6L1129.3 1223.8L1132.4 1239.5L1135.5 1255.1L1138.6 1269.2L1141.8 1283.3L1144.9 1299.0L1148.0 1314.6L1151.2 1330.3L1154.3 1345.9L1157.4 1360.0L1160.6 1374.1L1163.7 1386.7L1166.8 1399.2L1169.2 1407.0L1170.7 1411.7L1173.1 1405.4L1176.2 1396.0L1179.4 1385.1L1182.5 1374.1L1185.6 1361.6L1188.7 1349.1L1191.9 1336.6L1195.0 1324.0L1198.1 1309.9L1201.3 1295.9L1205.2 1281.8L1209.1 1266.1L1213.0 1250.5L1216.9 1234.8L1220.8 1219.1L1225.5 1203.5L1230.2 1187.8L1234.1 1177.9L1238.1 1162.2L1242.0 1146.6L1245.6 1130.9L1249.3 1115.2L1252.6 1099.6L1256.5 1076.1L1260.5 1052.6L1264.4 1032.3L1268.7 1013.5L1272.5 1001.0L1276.4 988.5L1278.8 982.5L1282.5 966.9L1286.3 954.4L1290.1 944.3L1293.8 936.8L1297.0 931.8L1300.1 928.7L1303.8 928.1L1305.7 924.3L1308.8 922.1L1312.0 923.7L1315.1 924.0L1318.9 926.2L1322.0 929.9L1325.1 934.9L1328.3 941.2L1330.8 947.5L1332.6 952.5L1334.5 952.2L1336.4 952.5L1338.3 955.0L1340.8 955.6L1342.7 960.0L1345.2 963.1L1347.7 964.7L1350.2 965.9L1352.1 960.6L1353.9 953.7L1355.5 960.6L1357.1 967.5L1358.9 970.0L1360.8 967.5L1363.3 966.6L1365.2 970.0L1367.1 973.8L1369.6 970.0L1372.1 969.4L1374.6 970.9L1377.1 973.8L1379.6 974.4L1382.1 978.2L1384.6 980.0L1386.5 985.7L1388.4 990.0L1390.9 993.8L1392.8 998.0L1395.7 1013.5L1401.1 1029.1L1405.1 1044.8L1409.0 1060.5L1412.1 1076.1L1415.2 1091.8L1418.4 1107.4L1421.5 1123.1L1424.6 1138.7L1427.8 1154.4L1430.9 1170.0L1435.5 1203.5L1441.0 1227.0L1445.7 1250.5L1450.4 1273.9L1455.1 1297.4L1460.6 1320.9L1466.8 1341.3L1473.1 1358.5L1480.1 1374.1L1486.4 1385.1L1492.7 1394.5L1497.4 1397.9L1502.1 1394.5L1506.8 1382.0L1511.4 1367.9L1516.1 1355.3L1520.8 1339.7L1525.5 1325.6L1530.2 1314.6L1534.9 1305.2L1539.6 1299.0L1544.3 1294.3L1550.6 1291.2L1556.8 1292.7L1563.1 1295.9L1570.0 1297.9L1573.9 1295.9L1577.8 1286.5L1582.5 1272.4L1587.2 1255.1L1591.9 1234.8L1596.6 1214.4L1601.3 1197.2L1605.2 1189.4L1608.4 1190.2L1612.3 1197.2L1616.2 1211.3L1620.1 1228.5L1624.0 1247.3L1627.9 1266.1L1631.8 1283.3L1635.8 1300.5L1639.7 1316.2L1643.6 1330.3L1647.5 1342.8L1651.4 1353.8L1656.1 1363.2L1660.8 1370.2L1665.5 1374.1L1670.2 1375.7L1674.9 1374.9L1679.6 1372.6L1685.9 1368.6L1692.1 1364.7L1698.4 1362.4L1703.1 1362.4L1707.8 1364.7L1714.0 1368.6L1720.3 1373.3L1726.6 1377.3L1732.8 1380.4L1737.5 1382.0L1742.2 1379.6L1746.9 1374.1L1751.6 1364.7L1756.3 1352.2L1761.0 1339.7L1765.7 1328.7L1770.4 1319.3L1775.1 1311.5L1781.4 1300.5L1787.6 1289.6L1792.3 1281.8L1797.0 1273.9L1801.7 1264.5L1806.4 1253.6L1811.1 1242.6L1815.8 1231.7L1820.5 1220.7L1823.4 1219.1L1828.1 1211.3L1832.8 1200.4L1835.9 1191.0L1838.3 1176.9L1840.6 1161.2L1844.3 1145.6L1846.6 1126.8L1849.0 1108.0L1851.3 1089.2L1853.6 1073.5L1856.0 1065.7L1858.3 1062.6L1859.9 1072.0L1861.5 1064.1L1863.0 1062.6L1864.6 1076.7L1866.2 1095.5L1868.5 1114.2L1870.9 1129.9L1873.2 1145.6L1875.6 1159.6L1877.9 1172.2L1880.3 1184.7L1883.4 1198.8L1885.7 1208.2" stroke="#000000" stroke-width="2.60" stroke-dasharray="10 10"/>
<path d="M190.0 200.0L208.6 290.0L209.3 400.0L210.0 550.0L211.0 624.0L212.5 560.0L214.8 442.0L215.6 500.0L217.0 600.0L218.2 643.0L219.5 600.0L221.0 540.0L221.9 506.0L222.6 570.0L223.2 608.0L225.0 590.0L226.7 574.0L227.0 504.0L228.0 440.0L228.2 392.0L229.3 372.0L230.4 388.0L231.5 368.0L232.0 380.0L232.5 340.0L232.9 290.0M537.6 290.0L539.8 350.0L543.0 480.0L548.4 680.0L554.6 860.0L559.5 1050.0L562.0 1100.0L564.6 1150.0L567.1 1200.0L568.4 1230.0L570.1 1248.8L572.6 1273.8L575.2 1298.9L577.7 1323.9L580.2 1342.7L582.7 1355.3L586.4 1364.0L590.2 1367.8L593.3 1365.3L597.1 1360.5L600.2 1362.8L602.7 1364.6L606.5 1359.0L610.2 1350.2L614.6 1345.0L618.4 1350.2L622.1 1360.3L625.3 1367.8L627.8 1370.3L629.6 1365.3L631.5 1349.0L633.4 1330.2L635.9 1305.2L638.4 1280.1L640.9 1255.1L644.0 1230.0L647.8 1187.8L651.6 1156.5L654.1 1131.4L657.8 1110.1L661.6 1096.3L666.6 1082.6L669.1 1078.2L675.4 1075.1L681.6 1076.3L686.6 1081.3L691.6 1090.1L695.4 1100.1L699.1 1106.4L705.4 1108.9L711.7 1112.6L715.4 1121.4L719.2 1130.2L724.2 1136.4L729.2 1143.9L734.2 1151.5L738.6 1152.7L741.7 1147.7L745.5 1140.2L749.2 1131.4L753.0 1120.1L756.5 1108.6L761.2 1100.8L765.9 1096.1L770.5 1093.0L775.2 1088.3L779.2 1089.8L783.9 1096.1L787.8 1100.8L790.9 1110.2L794.0 1122.7L797.9 1133.7L801.1 1144.6L804.2 1155.6L807.3 1164.2L810.5 1165.0L813.6 1161.9L816.7 1154.0L819.9 1138.4L822.2 1119.6L824.6 1099.2L826.9 1072.6L829.3 1046.0L831.6 1019.4L833.2 989.2L835.5 965.7L837.9 934.4L840.2 903.1L842.6 879.6L845.7 857.7L848.8 835.8L852.0 815.4L855.1 801.3L858.2 796.6L862.9 795.0L866.8 802.9L870.7 810.7L875.4 816.2L881.7 820.9L886.4 815.4L890.3 827.9L894.2 837.3L897.4 843.6L899.7 863.9L902.8 882.7L906.8 895.2L910.7 889.0L914.6 878.0L917.7 874.1L920.1 889.0L923.2 903.1L926.3 915.6L928.7 934.4L930.2 953.2L931.3 989.2L932.6 970.4L934.1 964.1L936.5 973.5L939.6 989.2L942.8 1001.7L945.9 1015.8L947.5 1021.0L950.6 1036.6L952.9 1057.0L956.1 1072.6L959.2 1085.1L961.5 1094.5L963.1 1103.9L965.5 1116.5L967.8 1129.0L971.9 1149.7L976.6 1166.9L981.3 1180.0L984.4 1189.4L989.1 1206.6L993.8 1225.4L998.5 1245.8L1004.0 1267.7L1009.5 1288.0L1015.8 1306.8L1022.0 1322.5L1028.3 1335.0L1034.5 1345.9L1040.0 1353.8L1045.5 1356.9L1050.2 1356.6L1056.5 1353.0L1062.7 1349.1L1069.0 1346.7L1073.7 1345.9L1078.4 1345.2L1083.1 1342.8L1087.8 1338.1L1094.0 1331.9L1100.3 1325.6L1106.6 1319.3L1112.8 1309.9L1118.3 1302.1L1123.8 1291.2L1128.5 1283.3L1133.2 1277.1L1137.9 1271.6L1143.3 1266.9L1148.8 1262.2L1153.5 1258.3L1157.4 1257.5L1161.4 1251.2L1166.0 1248.1L1170.7 1247.6L1175.4 1248.9L1180.1 1252.8L1184.8 1259.8L1188.7 1269.2L1192.7 1280.2L1196.6 1292.7L1200.5 1303.7L1204.4 1313.1L1208.3 1320.9L1211.4 1324.0L1214.6 1323.7L1217.7 1319.3L1220.8 1309.9L1224.0 1295.9L1227.1 1277.1L1230.2 1258.3L1233.4 1237.9L1236.5 1216.0L1239.6 1195.7L1244.3 1177.9L1247.5 1154.4L1251.4 1130.9L1255.3 1107.4L1259.2 1083.9L1263.1 1060.5L1267.0 1041.7L1270.0 1029.1L1270.4 1037.0L1275.0 1018.2L1279.7 1002.5L1281.3 1000.0L1284.4 987.7L1287.5 975.1L1290.7 963.9L1293.8 956.4L1296.9 950.7L1300.7 945.7L1304.4 942.6L1308.2 940.7L1312.0 940.1L1315.1 941.3L1318.2 943.8L1321.3 947.6L1324.5 953.2L1327.0 959.5L1329.5 965.7L1331.7 972.0L1333.2 977.0L1335.1 975.1L1337.6 976.7L1340.8 976.1L1342.6 973.9L1344.5 978.3L1347.0 980.8L1350.2 981.4L1352.7 977.0L1353.9 973.3L1355.2 976.4L1357.0 981.4L1359.5 983.3L1362.7 983.6L1365.8 985.8L1368.3 986.4L1370.8 984.5L1372.7 980.8L1375.8 982.0L1378.3 984.5L1381.5 987.0L1384.6 989.5L1387.1 993.9L1389.6 997.7L1391.5 1000.0L1391.7 999.4L1398.0 1013.5L1403.4 1029.1L1407.4 1044.8L1411.3 1060.5L1414.4 1076.1L1417.5 1091.8L1420.7 1107.4L1423.8 1123.1L1426.9 1138.7L1430.1 1154.4L1433.2 1170.0L1439.4 1203.5L1444.9 1227.0L1450.4 1250.5L1456.7 1273.9L1462.9 1297.4L1469.2 1317.8L1475.4 1336.6L1481.7 1353.8L1488.0 1367.9L1494.2 1382.0L1499.7 1394.5L1503.6 1403.9L1507.2 1412.2L1510.7 1403.9L1514.6 1391.4L1519.3 1375.7L1524.0 1360.0L1528.7 1344.4L1533.4 1330.3L1539.6 1319.3L1547.5 1292.7L1555.3 1273.9L1563.1 1261.4L1570.0 1250.5L1574.7 1247.3L1579.4 1234.8L1584.1 1222.3L1588.8 1208.2L1593.5 1194.1L1598.2 1183.1L1601.3 1174.0L1606.0 1171.6L1609.9 1174.7L1613.8 1185.7L1615.4 1189.4L1618.5 1203.5L1622.4 1220.7L1626.4 1237.9L1630.3 1253.6L1634.2 1267.7L1638.9 1281.8L1643.6 1292.7L1648.3 1299.8L1653.0 1303.7L1657.7 1305.2L1663.9 1304.9L1670.2 1304.5L1676.5 1306.8L1682.7 1309.9L1689.0 1316.2L1695.2 1323.2L1701.5 1330.3L1707.8 1338.1L1714.0 1345.2L1718.7 1351.4L1723.4 1356.9L1728.1 1360.8L1732.8 1362.9L1736.7 1363.2L1740.6 1360.8L1745.3 1355.3L1750.0 1348.3L1754.7 1341.3L1759.4 1336.6L1764.1 1331.1L1768.8 1324.0L1773.5 1316.2L1779.8 1308.4L1786.0 1302.1L1792.3 1295.9L1798.6 1289.6L1804.8 1281.8L1809.5 1270.8L1814.2 1258.3L1818.9 1244.2L1823.6 1230.1L1826.4 1221.1L1831.1 1213.3L1835.8 1202.4L1838.9 1193.0L1841.3 1178.9L1843.6 1163.2L1845.2 1147.6L1847.5 1128.8L1849.9 1110.0L1852.2 1091.2L1854.5 1075.5L1856.9 1067.7L1859.2 1064.6L1860.8 1074.0L1862.4 1066.1L1863.9 1064.6L1865.5 1078.7L1867.1 1097.5L1869.4 1116.2L1871.8 1131.9L1874.1 1147.6L1876.5 1161.6L1878.8 1174.2L1881.2 1186.7L1884.3 1200.8L1886.6 1210.2" stroke="#000000" stroke-width="2.60" stroke-dasharray="10 2.75 4.5 2.75"/>
<path d="M503.5 296.0L504.1 303.0L505.0 309.4L506.0 307.0L507.0 303.0L508.4 296.0" stroke="#000000" stroke-width="2.60"/>
</g>
<path d="M188.25 296.60H1884.30M188.25 1413.50H1867.30M401.26 1413.50v-17.00M401.26 296.60v17.00M613.12 1413.50v-17.00M613.12 296.60v17.00M824.99 1413.50v-17.00M824.99 296.60v17.00M1036.85 1413.50v-17.00M1036.85 296.60v17.00M1248.71 1413.50v-17.00M1248.71 296.60v17.00M1460.58 1413.50v-17.00M1460.58 296.60v17.00M1672.44 1413.50v-17.00M1672.44 296.60v17.00" fill="none" stroke="#262626" stroke-width="2.30"/>
<path d="M189.40 295.45V1414.65M189.40 408.29h17.00M189.40 519.98h17.00M189.40 631.67h17.00M189.40 743.36h17.00M189.40 855.05h17.00M189.40 966.74h17.00M189.40 1078.43h17.00M189.40 1190.12h17.00M189.40 1301.81h17.00" fill="none" stroke="#000000" stroke-width="2.50"/>
<path d="M189.40 296.60h17.00M189.40 1413.50h17.00" fill="none" stroke="#000000" stroke-width="2.30"/>
<path d="M1884.30 295.45V1414.65M1884.30 1413.50h-17.00M1884.30 1289.40h-17.00M1884.30 1165.30h-17.00M1884.30 1041.20h-17.00M1884.30 917.10h-17.00M1884.30 793.00h-17.00M1884.30 668.90h-17.00M1884.30 544.80h-17.00M1884.30 420.70h-17.00M1884.30 296.60h-17.00" fill="none" stroke="#92278f" stroke-width="2.50"/>
<text transform="translate(189.4 1482.6) scale(1 1.055)" font-size="52.0" fill="#262626" text-anchor="middle">0</text>
<text transform="translate(401.3 1482.6) scale(1 1.055)" font-size="52.0" fill="#262626" text-anchor="middle">1</text>
<text transform="translate(613.1 1482.6) scale(1 1.055)" font-size="52.0" fill="#262626" text-anchor="middle">2</text>
<text transform="translate(825.0 1482.6) scale(1 1.055)" font-size="52.0" fill="#262626" text-anchor="middle">3</text>
<text transform="translate(1036.8 1482.6) scale(1 1.055)" font-size="52.0" fill="#262626" text-anchor="middle">4</text>
<text transform="translate(1248.7 1482.6) scale(1 1.055)" font-size="52.0" fill="#262626" text-anchor="middle">5</text>
<text transform="translate(1460.6 1482.6) scale(1 1.055)" font-size="52.0" fill="#262626" text-anchor="middle">6</text>
<text transform="translate(1672.4 1482.6) scale(1 1.055)" font-size="52.0" fill="#262626" text-anchor="middle">7</text>
<text transform="translate(1884.3 1482.6) scale(1 1.055)" font-size="52.0" fill="#262626" text-anchor="middle">8</text>
<text transform="translate(168.0 315.2) scale(1 1.055)" font-size="52.0" fill="#000000" text-anchor="end">0</text>
<text transform="translate(168.0 426.9) scale(1 1.055)" font-size="52.0" fill="#000000" text-anchor="end">-5</text>
<text transform="translate(168.0 538.6) scale(1 1.055)" font-size="52.0" fill="#000000" text-anchor="end">-10</text>
<text transform="translate(168.0 650.3) scale(1 1.055)" font-size="52.0" fill="#000000" text-anchor="end">-15</text>
<text transform="translate(168.0 762.0) scale(1 1.055)" font-size="52.0" fill="#000000" text-anchor="end">-20</text>
<text transform="translate(168.0 873.7) scale(1 1.055)" font-size="52.0" fill="#000000" text-anchor="end">-25</text>
<text transform="translate(168.0 985.3) scale(1 1.055)" font-size="52.0" fill="#000000" text-anchor="end">-30</text>
<text transform="translate(168.0 1097.0) scale(1 1.055)" font-size="52.0" fill="#000000" text-anchor="end">-35</text>
<text transform="translate(168.0 1208.7) scale(1 1.055)" font-size="52.0" fill="#000000" text-anchor="end">-40</text>
<text transform="translate(168.0 1320.4) scale(1 1.055)" font-size="52.0" fill="#000000" text-anchor="end">-45</text>
<text transform="translate(168.0 1432.1) scale(1 1.055)" font-size="52.0" fill="#000000" text-anchor="end">-50</text>
<text transform="translate(1904.5 1432.1) scale(1 1.055)" font-size="52.0" fill="#92278f" text-anchor="start">1</text>
<text transform="translate(1904.5 1308.0) scale(1 1.055)" font-size="52.0" fill="#92278f" text-anchor="start">2</text>
<text transform="translate(1904.5 1183.9) scale(1 1.055)" font-size="52.0" fill="#92278f" text-anchor="start">3</text>
<text transform="translate(1904.5 1059.8) scale(1 1.055)" font-size="52.0" fill="#92278f" text-anchor="start">4</text>
<text transform="translate(1904.5 935.7) scale(1 1.055)" font-size="52.0" fill="#92278f" text-anchor="start">5</text>
<text transform="translate(1904.5 811.6) scale(1 1.055)" font-size="52.0" fill="#92278f" text-anchor="start">6</text>
<text transform="translate(1904.5 687.5) scale(1 1.055)" font-size="52.0" fill="#92278f" text-anchor="start">7</text>
<text transform="translate(1904.5 563.4) scale(1 1.055)" font-size="52.0" fill="#92278f" text-anchor="start">8</text>
<text transform="translate(1904.5 439.3) scale(1 1.055)" font-size="52.0" fill="#92278f" text-anchor="start">9</text>
<text transform="translate(1904.5 315.2) scale(1 1.055)" font-size="52.0" fill="#92278f" text-anchor="start">10</text>
<text transform="translate(1038.0 1550.3) scale(1 1.055)" font-size="57.0" fill="#262626" text-anchor="middle">Frequency (GHz)</text>
<text transform="translate(65.7 855.2) rotate(-90) scale(1 1.055)" font-size="57.0" fill="#000000" text-anchor="middle">S11 (dB)</text>
<text transform="translate(2029.1 856.5) rotate(-90) scale(1 1.055)" font-size="57.0" fill="#92278f" text-anchor="middle">VSWR</text>
<rect x="544.5" y="28.2" width="987.3" height="195.1" fill="#ffffff" stroke="#262626" stroke-width="2"/>
<path d="M559.8 65.8H717.2" stroke="#ff0000" stroke-width="2.60" fill="none"/>
<text transform="translate(728.8 81.5) scale(1 1.055)" font-size="45.9" fill="#000000" text-anchor="start">S11, Mode 1</text>
<path d="M1022.3 65.8H1180.2" stroke="#000000" stroke-width="2.60" fill="none"/>
<text transform="translate(1192.0 81.5) scale(1 1.055)" font-size="45.9" fill="#000000" text-anchor="start">VSWR, Mode 1</text>
<path d="M559.8 125.9H717.2" stroke="#00ff00" stroke-width="3.00" fill="none"/>
<text transform="translate(728.8 141.6) scale(1 1.055)" font-size="45.9" fill="#000000" text-anchor="start">S11, Mode 2</text>
<path d="M1022.3 125.9H1180.2" stroke="#000000" stroke-width="2.60" fill="none" stroke-dasharray="10 10"/>
<text transform="translate(1192.0 141.6) scale(1 1.055)" font-size="45.9" fill="#000000" text-anchor="start">VSWR, Mode 2</text>
<path d="M559.8 186.0H717.2" stroke="#0000ff" stroke-width="2.50" fill="none"/>
<text transform="translate(728.8 201.7) scale(1 1.055)" font-size="45.9" fill="#000000" text-anchor="start">S11, Mode 3</text>
<path d="M1022.3 186.0H1180.2" stroke="#000000" stroke-width="2.60" fill="none" stroke-dasharray="10 2.75 4.5 2.75"/>
<text transform="translate(1192.0 201.7) scale(1 1.055)" font-size="45.9" fill="#000000" text-anchor="start">VSWR, Mode 3</text>
</svg>
</body></html>
